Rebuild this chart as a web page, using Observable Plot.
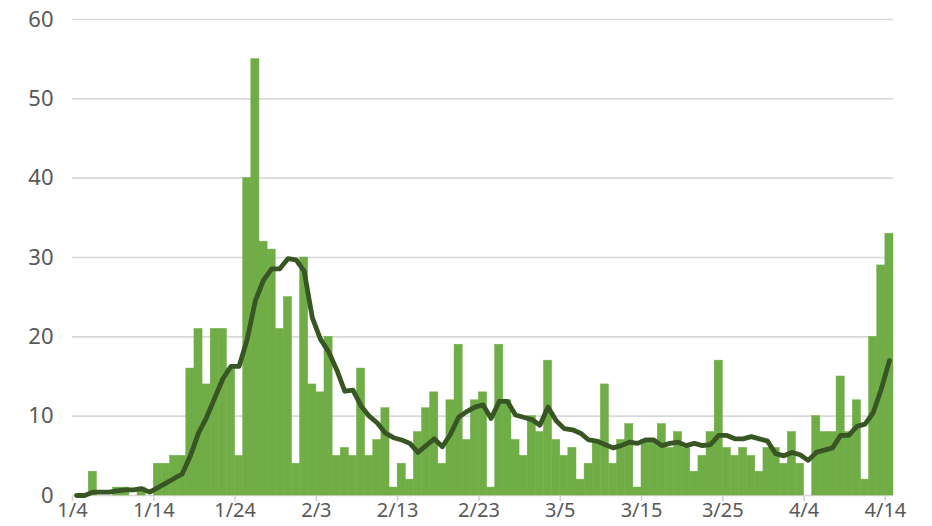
<!DOCTYPE html>
<html>
<head>
<meta charset="utf-8">
<script src="https://cdn.jsdelivr.net/npm/d3@7"></script>
<script src="https://cdn.jsdelivr.net/npm/@observablehq/plot@0.6"></script>
<style>
  html, body { margin: 0; padding: 0; background: #ffffff; }
  #chart svg [aria-label^="x-axis"] line,
  #chart svg [aria-label^="x-axis"] path { stroke: #d0d0d0; stroke-width: 1.5px; }
  #chart svg [aria-label^="y-axis"] line,
  #chart svg [aria-label^="y-axis"] path { display: none; }
  #chart svg text { font-size: 22px !important; font-family: 'Noto Sans', sans-serif !important; fill: #595959; }
  #chart svg [aria-label^="x-axis"] text { font-size: 20px !important; }
</style>
</head>
<body>
<div id="chart"></div>
<script>
// ---- data ----
const startDay = "2021/01/04";
// daily values, one per day from 1/4 to 4/14
const dailyValues = [
  0, 0, 3, 0, 0, 1, 1, 0, 1, 0,        // 1/4 - 1/13
  4, 4, 5, 5, 16, 21, 14, 21, 21, 16,  // 1/14 - 1/23
  5, 40, 55, 32, 31, 21, 25, 4, 30, 14,// 1/24 - 2/2
  13, 20, 5, 6, 5, 16, 5, 7, 11, 1,    // 2/3 - 2/12
  4, 2, 8, 11, 13, 4, 12, 19, 7, 12,   // 2/13 - 2/22
  13, 1, 19, 12, 7, 5, 10, 8, 17, 7,   // 2/23 - 3/4
  5, 6, 2, 4, 7, 14, 4, 7, 9, 1,       // 3/5 - 3/14
  7, 7, 9, 6, 8, 6, 3, 5, 8, 17,       // 3/15 - 3/24
  6, 5, 6, 5, 3, 6, 6, 4, 8, 4,        // 3/25 - 4/3
  0, 10, 8, 8, 15, 8, 12, 2, 20, 29,   // 4/4 - 4/13
  33                                   // 4/14
];
const xTickLabels = ["1/4", "1/14", "1/24", "2/3", "2/13", "2/23", "3/5", "3/15", "3/25", "4/4", "4/14"];
const yTickValues = [0, 10, 20, 30, 40, 50, 60];
const windowDays = 7;

// ---- build table ----
const parseDay = d3.utcParse("%Y/%m/%d");
const start = parseDay(startDay);
const data = dailyValues.map((v, i) => {
  const date = d3.utcDay.offset(start, i);
  return { date, next: d3.utcDay.offset(date, 1), mid: d3.utcHour.offset(date, 12), value: v };
});
const tickDates = xTickLabels.map(l => parseDay("2021/" + l));
const labelOf = new Map(tickDates.map((d, i) => [+d, xTickLabels[i]]));
const end = d3.utcDay.offset(start, dailyValues.length);

const chart = Plot.plot({
  width: 932,
  height: 526,
  marginLeft: 72,
  marginRight: 39,
  marginTop: 19,
  marginBottom: 31,
  style: {
    fontFamily: "'Noto Sans', 'Open Sans', sans-serif",
    fontSize: "21px",
    color: "#595959",
    background: "#ffffff",
    overflow: "visible"
  },
  x: {
    type: "utc",
    domain: [start, end],
    ticks: tickDates,
    tickFormat: d => labelOf.get(+d),
    tickSize: 6,
    tickPadding: 1,
    label: null
  },
  y: {
    domain: [0, 60],
    ticks: yTickValues,
    tickSize: 0,
    tickPadding: 19,
    label: null
  },
  marks: [
    Plot.ruleY(yTickValues, { stroke: "#d9d9d9", strokeWidth: 1.6 }),
    Plot.rectY(data, {
      x1: "date",
      x2: "next",
      y: "value",
      fill: "#70ad47",
      stroke: "#70ad47",
      strokeWidth: 0.5,
      inset: 0
    }),
    Plot.line(data, Plot.windowY(
      { k: windowDays, anchor: "end", reduce: (values) => d3.sum(values) / windowDays },
      { x: "mid", y: "value", stroke: "#375623", strokeWidth: 4.8, strokeLinejoin: "round", strokeLinecap: "round" }
    ))
  ]
});
document.getElementById("chart").appendChild(chart);
</script>
</body>
</html>
